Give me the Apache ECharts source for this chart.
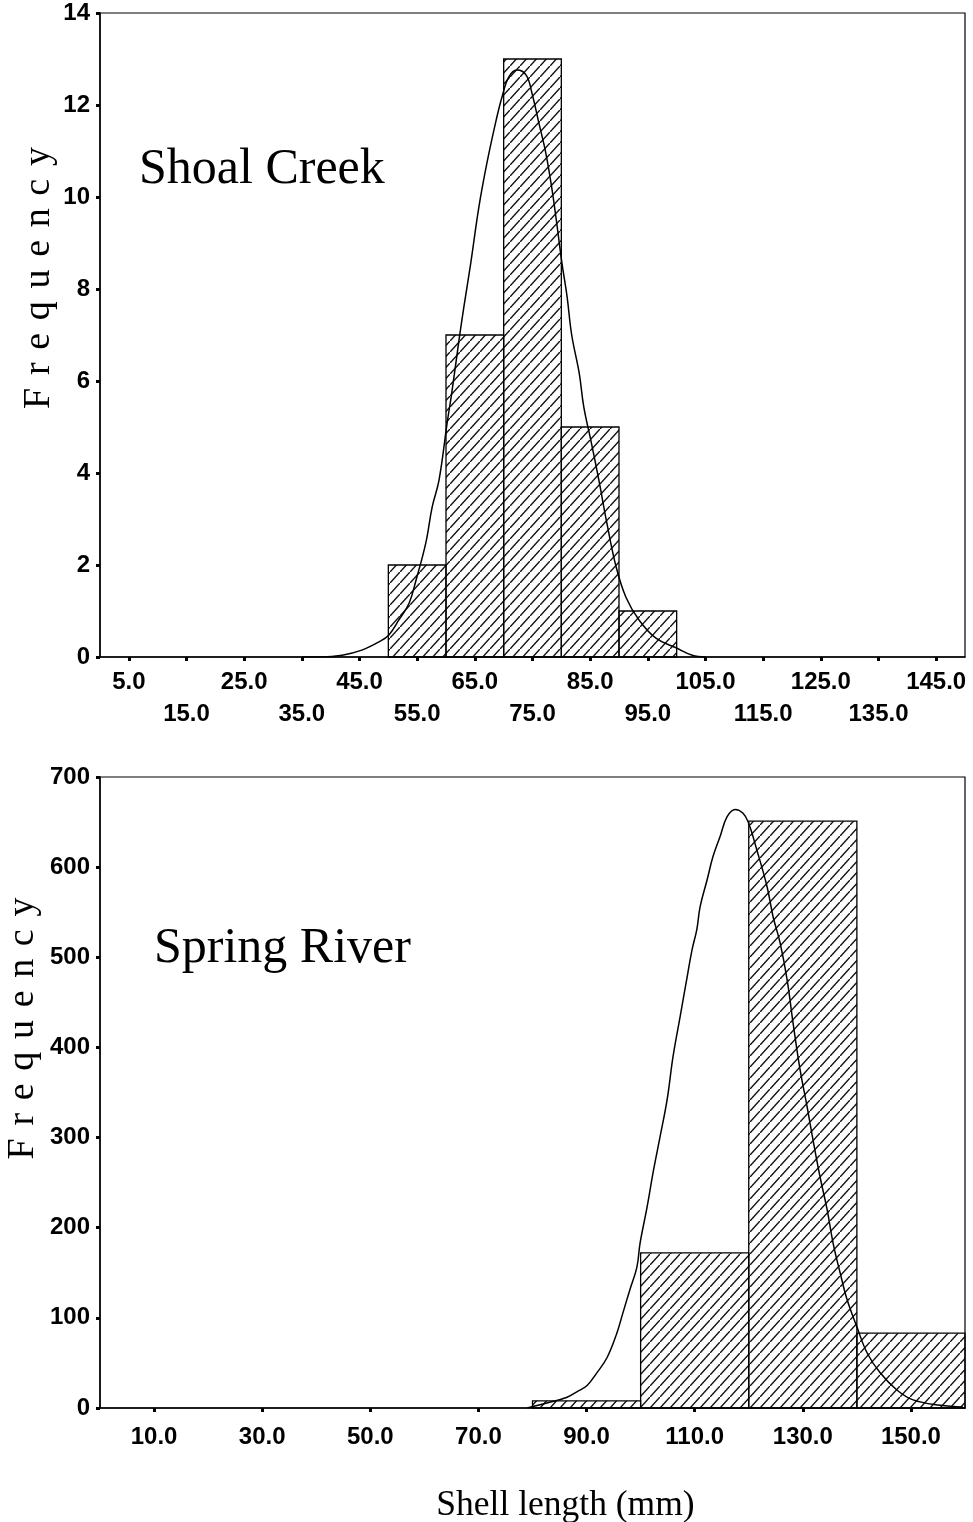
<!DOCTYPE html>
<html>
<head>
<meta charset="utf-8">
<script src="https://cdn.jsdelivr.net/npm/echarts@6/dist/echarts.min.js"></script>
<style>
  html, body { margin: 0; padding: 0; background: #fff; }
  #main { width: 973px; height: 1522px; }
</style>
</head>
<body>
<div id="main"></div>
<script>
// Shoal Creek histogram (bins of 10 mm)
var shoalEdges = [50, 60, 70, 80, 90, 100];
var shoalCounts = [2, 7, 13, 5, 1];
var shoalTicks = [5, 15, 25, 35, 45, 55, 65, 75, 85, 95, 105, 115, 125, 135, 145];
// normal curve
var shoalCurveX = [35, 38.5, 42, 45.4, 48.4, 50.1, 51.8, 53.6, 54.8, 56.5, 57.6, 58.8, 60.2, 61, 62.3, 63.1, 64.3, 65.7, 67.1, 68.7, 69.7, 70.9, 72.3, 73.9, 74.9, 76.1, 77.3, 78.4, 79.2, 80.1, 81, 81.8, 83.1, 83.9, 85.1, 86.5, 87.9, 89.5, 91.2, 93.5, 96.4, 99.9, 102.7, 105];
var shoalCurveY = [0, 0, 0.04, 0.15, 0.33, 0.48, 0.8, 1.17, 1.67, 2.48, 3.26, 3.85, 5.09, 5.74, 6.93, 7.61, 8.57, 9.78, 10.74, 11.67, 12.17, 12.61, 12.76, 12.65, 12.26, 11.61, 10.96, 10.15, 9.43, 8.57, 7.83, 7.0, 6.17, 5.43, 4.72, 3.85, 2.91, 1.96, 1.3, 0.8, 0.41, 0.2, 0.04, 0];

// Spring River histogram (bins of 20 mm)
var springEdges = [80, 100, 120, 140, 160];
var springCounts = [8, 172, 651, 83];
var springTicks = [10, 30, 50, 70, 90, 110, 130, 150];
var springCurveX = [79, 82.7, 86.4, 88.2, 90.1, 91.9, 93.8, 95.6, 96.7, 98, 99.3, 99.9, 101.2, 102.3, 103.6, 104.9, 106, 107.3, 108.6, 109.5, 110.4, 111, 112.3, 113.4, 114.7, 116, 117.5, 118.9, 119.9, 121.5, 123.4, 124.5, 125.8, 127.1, 128.2, 129.5, 130.8, 131.9, 133.2, 134.5, 135.6, 136.9, 138.2, 140, 141.9, 144.3, 147.4, 150.4, 155.4, 159.6];
var springCurveY = [0, 5.5, 12, 18, 25, 39, 56, 83, 105, 131, 156, 183, 223, 261, 301, 342, 390, 434, 478, 508, 531, 556, 586, 612, 634, 656, 664, 660, 650, 619, 578, 545, 516, 475, 427, 375, 334, 297, 256, 220, 183, 150, 120, 90, 61, 39, 20, 9, 3, 1];

// the top chart staggers its labels over two rows
var shoalRow1 = shoalTicks.filter(function (v, i) { return i % 2 === 0; });
var shoalRow2 = shoalTicks.filter(function (v, i) { return i % 2 === 1; });

function hatchCanvas() {
    var c = document.createElement('canvas');
    c.width = 10; c.height = 11;
    var g = c.getContext('2d');
    g.strokeStyle = '#111';
    g.lineWidth = 1.4;
    g.beginPath();
    g.moveTo(-1, 12.1); g.lineTo(11, -1.1);
    g.stroke();
    return c;
}
var hatch = { image: hatchCanvas(), repeat: 'repeat' };

function binData(edges, counts) {
    var out = [];
    for (var i = 0; i < counts.length; i++) out.push([edges[i], edges[i + 1], counts[i]]);
    return out;
}
function curveData(xs, ys) {
    return xs.map(function (x, i) { return [x, ys[i]]; });
}
function histItem(params, api) {
    var a = api.coord([api.value(0), api.value(2)]);
    var b = api.coord([api.value(1), 0]);
    return {
        type: 'rect',
        shape: { x: a[0], y: a[1], width: b[0] - a[0], height: b[1] - a[1] },
        style: { fill: hatch, stroke: '#000', lineWidth: 1.3 }
    };
}

var labelFont = { fontFamily: 'Liberation Sans, Arial, sans-serif', fontSize: 24, fontWeight: 'bold', color: '#000' };
var serif = 'Liberation Serif, Times New Roman, serif';
var freqName = 'F\u2004r\u2004e\u2004q\u2004u\u2004e\u2004n\u2004c\u2004y';

function xAxisFor(idx, max, ticks, labels, margin) {
    return {
        type: 'value', gridIndex: idx, min: 0, max: max, position: 'bottom',
        axisLine: { lineStyle: { color: '#000', width: 1.5 } },
        splitLine: { show: false },
        axisTick: { customValues: ticks, length: 4, lineStyle: { color: '#000', width: 3 } },
        axisLabel: Object.assign({
            customValues: labels, margin: margin,
            showMinLabel: true, showMaxLabel: true,
            formatter: function (v) { return v.toFixed(1); }
        }, labelFont)
    };
}
function yAxisFor(idx, max, step, gap, shift) {
    return {
        type: 'value', gridIndex: idx, min: 0, max: max, interval: step,
        name: freqName, nameLocation: 'middle', nameGap: gap, nameMoveOverlap: false,
        nameTextStyle: { fontFamily: serif, fontSize: 38, color: '#000', padding: [0, 0, 0, shift] },
        axisLine: { lineStyle: { color: '#000', width: 1.5 } },
        splitLine: { show: false },
        axisTick: { length: 4, lineStyle: { color: '#000', width: 3 } },
        axisLabel: Object.assign({ margin: 10, showMinLabel: true, showMaxLabel: true }, labelFont)
    };
}

var shoalRow2Axis = xAxisFor(0, 150, [], shoalRow2, 45);
shoalRow2Axis.axisLine = { show: false };
shoalRow2Axis.axisTick = { show: false };

var springAxis = xAxisFor(1, 160, springTicks, springTicks, 17);
springAxis.name = 'Shell length (mm)';
springAxis.nameLocation = 'middle';
springAxis.nameGap = 80;
springAxis.nameTextStyle = { fontFamily: serif, fontSize: 35.5, color: '#000', padding: [0, 0, 0, 66] };

var chart = echarts.init(document.getElementById('main'));
chart.setOption({
    backgroundColor: '#fff',
    animation: false,
    title: [
        { text: 'Shoal Creek', left: 139, top: 145, padding: 0,
          textStyle: { fontFamily: serif, fontSize: 50, fontWeight: 'normal', color: '#000' } },
        { text: 'Spring River', left: 154, top: 924, padding: 0,
          textStyle: { fontFamily: serif, fontSize: 50, fontWeight: 'normal', color: '#000' } }
    ],
    grid: [
        { left: 100, top: 13, width: 865, height: 644, show: true, borderColor: '#000', borderWidth: 1.2,
          outerBoundsMode: 'none', containLabel: false },
        { left: 100, top: 777, width: 865, height: 631, show: true, borderColor: '#000', borderWidth: 1.2,
          outerBoundsMode: 'none', containLabel: false }
    ],
    xAxis: [
        xAxisFor(0, 150, shoalTicks, shoalRow1, 13),
        springAxis,
        shoalRow2Axis
    ],
    yAxis: [
        yAxisFor(0, 14, 2, 42, 114),
        yAxisFor(1, 700, 100, 58, 128)
    ],
    series: [
        { type: 'custom', xAxisIndex: 0, yAxisIndex: 0, renderItem: histItem,
          data: binData(shoalEdges, shoalCounts), z: 2 },
        { type: 'line', xAxisIndex: 0, yAxisIndex: 0, smooth: 0.4, showSymbol: false,
          lineStyle: { color: '#000', width: 1.5 }, data: curveData(shoalCurveX, shoalCurveY), z: 3 },
        { type: 'custom', xAxisIndex: 1, yAxisIndex: 1, renderItem: histItem,
          data: binData(springEdges, springCounts), z: 2 },
        { type: 'line', xAxisIndex: 1, yAxisIndex: 1, smooth: 0.4, showSymbol: false,
          lineStyle: { color: '#000', width: 1.5 }, data: curveData(springCurveX, springCurveY), z: 3 }
    ]
});
</script>
</body>
</html>
